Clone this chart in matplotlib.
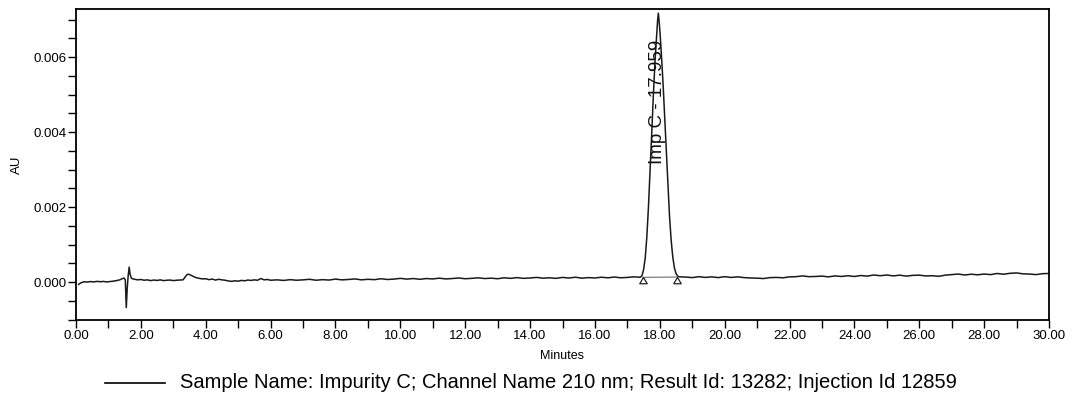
import matplotlib
matplotlib.use("Agg")
import matplotlib.pyplot as plt
import numpy as np
from matplotlib.lines import Line2D
from matplotlib.ticker import MultipleLocator, FuncFormatter

plt.rcParams["font.family"] = ["Liberation Sans", "DejaVu Sans"]

# detector trace, response in micro-AU
early_min = [0.08, 0.15, 0.25, 0.35, 0.45, 0.55, 0.65, 0.75, 0.85, 0.95,
             1.05, 1.15, 1.25, 1.35, 1.42, 1.48, 1.52, 1.55, 1.58, 1.61,
             1.64, 1.67, 1.71, 1.78, 1.90, 2.00, 2.10, 2.20, 2.30, 2.40,
             2.50, 2.60, 2.70, 2.80, 2.90, 3.00, 3.10, 3.20, 3.30, 3.36,
             3.42, 3.48, 3.55, 3.62, 3.70, 3.80, 3.90, 4.00, 4.10, 4.20,
             4.30, 4.40, 4.50, 4.60, 4.70, 4.80, 4.90, 5.00, 5.10, 5.20,
             5.30, 5.40, 5.50, 5.60, 5.70, 5.80, 5.90, 6.00]
early_uau = [-60, -20, 10, 0, 15, 5, 20, 10, 18, 5,
             15, 25, 40, 60, 90, 110, 60, -680, -150, 180,
             400, 200, 100, 80, 60, 70, 50, 60, 40, 55,
             45, 60, 40, 50, 55, 40, 50, 55, 60, 130,
             200, 210, 180, 150, 120, 100, 85, 90, 65, 80,
             55, 75, 60, 50, 30, 20, 35, 25, 45, 35,
             55, 45, 60, 50, 95, 60, 70, 50]

mid_uau = [60, 45, 65, 50, 60, 75, 50, 65, 55, 80,
           60, 70, 85, 60, 75, 65, 90, 70, 80, 100,
           80, 95, 75, 95, 85, 105, 85, 95, 110, 90,
           100, 115, 95, 105, 90, 115, 100, 120, 100, 110,
           125, 105, 115, 100, 125, 110, 130, 105, 120, 110,
           130, 115, 135, 115, 125, 140]

peak_min = [17.40, 17.45, 17.50, 17.55, 17.60, 17.65, 17.70, 17.75, 17.80,
            17.85, 17.90, 17.93, 17.955, 17.98, 18.01, 18.05, 18.10, 18.15,
            18.20, 18.25, 18.30, 18.35, 18.40, 18.45, 18.50, 18.55, 18.60]
peak_uau = [130, 170, 330, 640, 1200, 2000, 2950, 3950, 4950,
            5850, 6550, 6950, 7170, 6950, 6600, 6050, 5300, 4400,
            3450, 2550, 1750, 1120, 670, 380, 230, 160, 140]

late_uau = [135, 120, 145, 125, 140, 120, 145, 125, 140, 120,
            110, 105, 95, 120, 125, 115, 140, 145, 165, 145,
            150, 160, 140, 165, 150, 170, 150, 175, 160, 190,
            170, 190, 165, 185, 160, 180, 185, 165, 170, 155,
            185, 200, 215, 190, 210, 195, 215, 200, 230, 210,
            235, 245, 220, 215, 200, 225, 230]

peak_label = "Imp C - 17.959"
peak_rt = 17.959
# integration start / end of the peak
marks_min = [17.48, 18.53]
marks_uau = [125, 135]

legend_text = ("Sample Name: Impurity C; Channel Name 210 nm; "
               "Result Id: 13282; Injection Id 12859")

mid_min = np.round(np.arange(6.2, 17.35, 0.2), 2)
late_min = np.round(np.arange(18.8, 30.01, 0.2), 2)
t = np.concatenate([early_min, mid_min, peak_min, late_min])
au = np.concatenate([early_uau, mid_uau, peak_uau, late_uau]) * 1e-6

fig = plt.figure(figsize=(10.77, 3.97), dpi=100)
ax = fig.add_axes([76 / 1077, 1 - 320 / 397, 973 / 1077, 311 / 397])

ax.plot(t, au, color="#1a1a1a", lw=1.1)

# drawn baseline under the peak, with start/end markers
mt = np.array(marks_min)
mv = np.array(marks_uau) * 1e-6
ax.plot(mt, mv, color="#888888", lw=1.0)
tri = [(0, 0), (-0.6, -1), (0.6, -1), (0, 0)]
ax.plot(mt, mv, ls="none", marker=tri, ms=9, mfc="white", mec="#222222",
        mew=0.9)

ax.text(peak_rt - 0.04, 0.0048, peak_label, rotation=90, ha="center",
        va="center", fontsize=13.5, color="#111111")

ax.set_xlim(0, 30)
ax.set_ylim(-0.00101, 0.00728)
ax.xaxis.set_major_locator(MultipleLocator(2))
ax.xaxis.set_minor_locator(MultipleLocator(1))
ax.xaxis.set_major_formatter(FuncFormatter(lambda v, p: f"{v:.2f}"))
ax.yaxis.set_major_locator(MultipleLocator(0.002))
ax.yaxis.set_minor_locator(MultipleLocator(0.0005))
ax.yaxis.set_major_formatter(FuncFormatter(lambda v, p: f"{v:.3f}"))
ax.tick_params(which="both", direction="out", length=6, width=1.0,
               labelsize=9.5, pad=1)
for s in ax.spines.values():
    s.set_linewidth(1.3)

fig.text(562 / 1077, 1 - 356 / 397, "Minutes", ha="center", va="center",
         fontsize=9)
fig.text(17 / 1077, 1 - 165 / 397, "AU", ha="center", va="center",
         rotation=90, fontsize=9.5)

fig.add_artist(Line2D([105 / 1077, 165 / 1077], [1 - 383 / 397] * 2,
                      color="black", lw=1.2, transform=fig.transFigure))
fig.text(180 / 1077, 1 - 383 / 397, legend_text, ha="left", va="center",
         fontsize=14.5)

fig.savefig("out.png", dpi=100)
